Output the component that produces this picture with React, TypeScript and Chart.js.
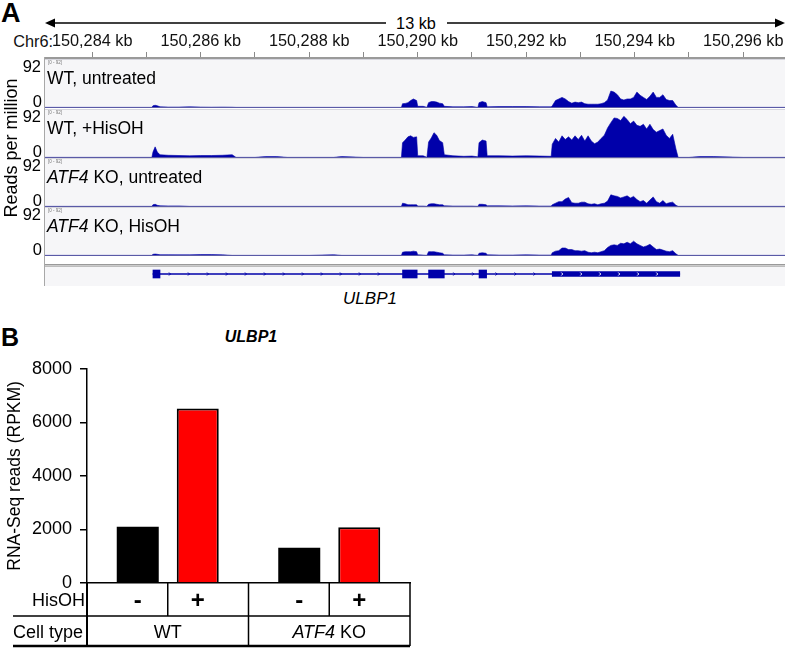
import React, { useEffect, useRef } from "react";
import { Chart, registerables } from "chart.js";

Chart.register(...registerables);

const FONT = '"Liberation Sans", Arial, Helvetica, sans-serif';
const COVERAGE_BLUE = "rgb(0, 0, 170)";

// ---------------- Panel A : genome browser ----------------
const CHROM_LABEL = "Chr6:";
const SPAN_LABEL = "13 kb";
const VIEW_START_KB = 150283.13;
const VIEW_END_KB = 150296.77;
const RULER_TICKS_KB = [
  150284, 150285, 150286, 150287, 150288, 150289, 150290, 150291, 150292, 150293, 150294, 150295, 150296,
];
const RULER_LABELS_KB = [150284, 150286, 150288, 150290, 150292, 150294, 150296];
const TRACK_MIN = 0;
const TRACK_MAX = 92;
const Y_AXIS_TITLE_A = "Reads per million";

const POSITIONS_KB = [
  // flank, exon 1, intron 1
  150283.13, 150285.10, 150285.12, 150285.16, 150285.20, 150285.25, 150285.40, 150285.60,
  150285.80, 150286.00, 150286.20, 150286.40, 150286.58, 150286.65, 150287.00, 150287.20,
  150287.40, 150287.60, 150288.00, 150288.45, 150288.60, 150289.00, 150289.40, 150289.70,
  // exon 2
  150289.72, 150289.77, 150289.82, 150289.87, 150289.92, 150289.98,
  // intron 2
  150290.00, 150290.10, 150290.17,
  // exon 3
  150290.20, 150290.25, 150290.30, 150290.35, 150290.40, 150290.46,
  // intron 3
  150290.49, 150290.65, 150290.85, 150291.00, 150291.11,
  // exon 4
  150291.13, 150291.19, 150291.26,
  // intron 4
  150291.28, 150291.50, 150291.75, 150292.00, 150292.25, 150292.46,
  // exon 5
  150292.48, 150292.54, 150292.60, 150292.66, 150292.72, 150292.78, 150292.84, 150292.90,
  150292.96, 150293.02, 150293.08, 150293.14, 150293.20, 150293.26, 150293.32, 150293.38,
  150293.44, 150293.50, 150293.56, 150293.62, 150293.68, 150293.74, 150293.80, 150293.86,
  150293.92, 150293.98, 150294.04, 150294.10, 150294.16, 150294.22, 150294.28, 150294.34,
  150294.40, 150294.46, 150294.52, 150294.58, 150294.64, 150294.70, 150294.76,
  // downstream
  150294.80, 150295.00, 150295.20, 150295.45, 150296.00, 150296.77,
];

const WT_UNTREATED = [
  0, 0, 3, 4, 3, 1, 0.5, 0.5, 1, 0.5, 0.3, 0.5, 0.3, 0, 0, 0, 0, 0, 0, 0, 0, 0, 0, 0,
  7, 7.5, 9, 13, 16, 13,
  2, 2, 0,
  9, 11, 11, 10, 8, 7,
  2, 1, 1, 1.5, 0,
  9, 11, 9,
  1, 1.5, 1.5, 1.5, 1, 1,
  3, 13, 16, 19, 16, 11, 8, 10, 9, 10, 7, 6, 6, 6, 6, 7, 9, 14, 31, 29,
  24, 16, 14, 16, 16, 19, 29, 23, 19, 15, 21, 29, 19, 19, 24, 15, 13, 13, 4,
  0, 0, 0, 0, 0, 0,
];

const WT_HISOH = [
  0, 0, 10, 20, 10, 5, 4, 3.5, 3, 3.5, 3.5, 4, 5, 0, 0, 1.5, 1.5, 0, 0, 0, 1.5, 0, 0, 0,
  28, 33, 39, 41, 38, 39,
  3, 3, 0,
  29, 37, 47, 42, 32, 28,
  5, 3, 2, 2.5, 1,
  28, 33, 31,
  3, 3, 2.5, 3, 2.5, 2,
  25, 36, 29, 41, 34, 39, 33, 41, 34, 42, 31, 41, 31, 26, 29, 36, 42, 56, 66, 75,
  74, 70, 78, 72, 64, 69, 61, 59, 63, 54, 63, 53, 48, 51, 54, 42, 36, 44, 16,
  0, 0, 1.5, 1.5, 0, 0,
];

const KO_UNTREATED = [
  0, 0, 3, 4, 2, 1, 0.8, 0.8, 0, 0, 0, 0, 0, 0, 0, 0, 0, 0, 0, 0, 0, 0, 0, 0,
  6, 5, 3, 3, 3, 3,
  0.5, 0.5, 0,
  4, 5, 5, 4, 3, 3,
  1, 0.5, 0.5, 0.5, 0,
  4, 4, 3,
  1, 1, 0.8, 1, 0.5, 0.5,
  3, 6, 9, 9, 14, 17, 7, 6, 6, 8, 8, 5, 4, 5, 3, 5, 6, 10, 22, 20,
  19, 16, 18, 20, 16, 19, 13, 9, 11, 6, 12, 18, 9, 6, 11, 5, 7, 8, 2,
  0, 0, 0, 0, 0, 0,
];

const KO_HISOH = [
  0, 0, 2, 2.5, 2, 1.2, 1.2, 1, 1, 1.5, 1.5, 1, 0, 0, 0, 0, 0, 0, 0, 1.2, 0, 0, 0, 0,
  6, 7, 7, 7, 8, 7,
  1, 0.5, 0,
  7, 7, 7, 6, 5, 4,
  1, 0.5, 0.5, 1, 0,
  4, 5, 4,
  1, 0.5, 0.5, 1, 0.5, 0.5,
  5, 8, 9, 14, 14, 11, 11, 9, 9, 8, 9, 6, 5, 6, 5, 7, 9, 15, 19, 20,
  19, 23, 22, 25, 22, 27, 22, 19, 16, 18, 21, 16, 11, 12, 10, 8, 7, 9, 3,
  0, 0, 0, 0, 0, 0,
];

const TRACK_SERIES = [WT_UNTREATED, WT_HISOH, KO_UNTREATED, KO_HISOH];
const TRACK_NAMES = ["WT, untreated", "WT, +HisOH", "ATF4 KO, untreated", "ATF4 KO, HisOH"];
const ITALIC_WORDS = ["ATF4"];

const GENE_NAME = "ULBP1";
const EXON_STARTS_KB = [150285.12, 150289.72, 150290.2, 150291.13, 150292.48];
const EXON_ENDS_KB = [150285.25, 150289.99, 150290.49, 150291.27, 150294.83];

// ---------------- Panel B : bar chart ----------------
const BAR_TITLE = "ULBP1";
const GENOTYPES = ["WT", "ATF4 KO"];
const RPKM_UNTREATED = [2100, 1320];
const RPKM_HISOH = [6520, 2080];
const TREATMENT_SIGNS = ["-", "+"];
const Y_AXIS_TITLE_B = "RNA-Seq reads (RPKM)";
const Y_MAX_B = 8000;
const Y_STEP_B = 2000;
const ROW_TREATMENT = "HisOH";
const ROW_CELLTYPE = "Cell type";

// ---------------- helpers ----------------
function words(text: string) {
  return text.split(/(\s+)/).filter((w) => w.length > 0);
}

function Rich({ text }: { text: string }) {
  return (
    <>
      {words(text).map((w, i) =>
        ITALIC_WORDS.includes(w.replace(/[,]/g, "")) ? (
          <i key={i}>{w}</i>
        ) : (
          <span key={i}>{w}</span>
        )
      )}
    </>
  );
}

function Label({
  x,
  y,
  anchor = "left",
  size = 16,
  style = {},
  children,
}: any) {
  const tx = anchor === "left" ? "0" : anchor === "center" ? "-50%" : "-100%";
  return (
    <div
      style={{
        position: "absolute",
        left: x,
        top: y,
        transform: `translate(${tx}, -50%)`,
        fontSize: size,
        lineHeight: 1,
        whiteSpace: "pre",
        ...style,
      }}
    >
      {children}
    </div>
  );
}

function ChartBox({ x, y, w, h, make }: any) {
  const ref = useRef<HTMLCanvasElement>(null);
  useEffect(() => {
    const chart = new Chart(ref.current as HTMLCanvasElement, make());
    return () => chart.destroy();
  }, []);
  return (
    <div style={{ position: "absolute", left: x, top: y, width: w, height: h }}>
      <canvas ref={ref} width={w} height={h} style={{ width: w, height: h, display: "block" }} />
    </div>
  );
}

const baseOptions = {
  responsive: false,
  animation: false,
  events: [],
  plugins: { legend: { display: false }, tooltip: { enabled: false } },
};

// track background + baseline
const trackPlugin = {
  id: "trackBg",
  beforeDraw(chart: any) {
    const { ctx, width, height } = chart;
    ctx.save();
    ctx.fillStyle = "#f6f6f8";
    ctx.fillRect(0, 0, width, height);
    ctx.fillStyle = "#d6d6de";
    ctx.fillRect(0, 0, width, 1);
    ctx.restore();
  },
  afterDatasetsDraw(chart: any) {
    const { ctx, width } = chart;
    const y0 = Math.round(chart.scales.y.getPixelForValue(TRACK_MIN)) + 0.5;
    ctx.save();
    ctx.strokeStyle = "#5a5aa6";
    ctx.lineWidth = 1;
    ctx.beginPath();
    ctx.moveTo(0, y0);
    ctx.lineTo(width, y0);
    ctx.stroke();
    ctx.restore();
  },
};

function trackConfig(values: number[]): any {
  return {
    type: "line",
    data: {
      datasets: [
        {
          data: POSITIONS_KB.map((p, i) => ({ x: p, y: values[i] })),
          fill: "origin",
          backgroundColor: COVERAGE_BLUE,
          borderColor: COVERAGE_BLUE,
          borderWidth: 0.6,
          pointRadius: 0,
          tension: 0,
        },
      ],
    },
    options: {
      ...baseOptions,
      layout: { padding: 0 },
      scales: {
        x: { type: "linear", min: VIEW_START_KB, max: VIEW_END_KB, display: false },
        y: { type: "linear", min: -1.2, max: TRACK_MAX, display: false },
      },
    },
    plugins: [trackPlugin],
  };
}

const rulerPlugin = {
  id: "rulerBar",
  beforeDraw(chart: any) {
    const { ctx, chartArea: a, width } = chart;
    ctx.save();
    ctx.fillStyle = "#9a9a9a";
    ctx.fillRect(0, a.top, width, 2);
    ctx.fillStyle = "#d0d0d0";
    ctx.fillRect(0, a.top + 2, width, 1);
    ctx.restore();
  },
};

function rulerConfig(): any {
  return {
    type: "line",
    data: { datasets: [] },
    options: {
      ...baseOptions,
      layout: { padding: 0 },
      scales: {
        x: {
          type: "linear",
          position: "top",
          min: VIEW_START_KB,
          max: VIEW_END_KB,
          afterBuildTicks: (s: any) => {
            s.ticks = RULER_TICKS_KB.map((v) => ({ value: v }));
          },
          afterFit: (s: any) => {
            s.height = 29;
          },
          ticks: {
            autoSkip: false,
            maxRotation: 0,
            padding: 1,
            color: "#111",
            font: { family: FONT, size: 16.3 },
            callback: (v: number) =>
              RULER_LABELS_KB.includes(v) ? `${v.toLocaleString("en-US")} kb` : "",
          },
          grid: { drawOnChartArea: false, drawTicks: true, tickLength: 5, color: "#8a8a8a", lineWidth: 1 },
          border: { display: false },
        },
        y: { display: false, min: 0, max: 1 },
      },
    },
    plugins: [rulerPlugin],
  };
}

const genePlugin = {
  id: "geneDecor",
  beforeDraw(chart: any) {
    const { ctx, width, height } = chart;
    ctx.save();
    ctx.fillStyle = "#9a9a9a";
    ctx.fillRect(0, 2, width, 1.5);
    ctx.fillStyle = "#bdbdbd";
    ctx.fillRect(0, 4, width, 1);
    ctx.fillStyle = "#f6f6f8";
    ctx.fillRect(0, 5, width, height - 5);
    ctx.restore();
  },
  afterDatasetsDraw(chart: any) {
    const { ctx } = chart;
    const xs = chart.scales.x;
    const yc = chart.scales.y.getPixelForValue(0);
    const chevron = (px: number, color: string) => {
      ctx.strokeStyle = color;
      ctx.beginPath();
      ctx.moveTo(px - 1, yc - 1.5);
      ctx.lineTo(px + 0.5, yc);
      ctx.lineTo(px - 1, yc + 1.5);
      ctx.stroke();
    };
    ctx.save();
    ctx.lineWidth = 1;
    for (let i = 0; i < EXON_STARTS_KB.length - 1; i++) {
      const a = xs.getPixelForValue(EXON_ENDS_KB[i]);
      const b = xs.getPixelForValue(EXON_STARTS_KB[i + 1]);
      for (let px = a + 10; px < b - 5; px += 19) chevron(px, COVERAGE_BLUE);
    }
    const last = EXON_STARTS_KB.length - 1;
    const a = xs.getPixelForValue(EXON_STARTS_KB[last]);
    const b = xs.getPixelForValue(EXON_ENDS_KB[last]);
    for (let px = a + 10; px < b - 5; px += 19) chevron(px, "#ffffff");
    ctx.restore();
  },
};

function geneConfig(): any {
  const last = EXON_STARTS_KB.length - 1;
  const common = { backgroundColor: COVERAGE_BLUE, borderWidth: 0, grouped: false };
  return {
    type: "bar",
    data: {
      labels: [GENE_NAME],
      datasets: [
        {
          ...common,
          barThickness: 1,
          data: [{ x: [EXON_STARTS_KB[0], EXON_ENDS_KB[last]], y: GENE_NAME }],
        },
        {
          ...common,
          barThickness: 8,
          data: EXON_STARTS_KB.slice(0, last).map((s, i) => ({ x: [s, EXON_ENDS_KB[i]], y: GENE_NAME })),
        },
        {
          ...common,
          barThickness: 5,
          data: [{ x: [EXON_STARTS_KB[last], EXON_ENDS_KB[last]], y: GENE_NAME }],
        },
      ],
    },
    options: {
      ...baseOptions,
      indexAxis: "y",
      layout: { padding: 0 },
      scales: {
        x: { type: "linear", min: VIEW_START_KB, max: VIEW_END_KB, display: false },
        y: { type: "category", display: false },
      },
    },
    plugins: [genePlugin],
  };
}

function drawRich(ctx: any, text: string, cx: number, cy: number, size: number) {
  const parts = words(text);
  const fontOf = (w: string) => `${ITALIC_WORDS.includes(w) ? "italic " : ""}${size}px ${FONT}`;
  let total = 0;
  parts.forEach((w) => {
    ctx.font = fontOf(w);
    total += ctx.measureText(w).width;
  });
  let x = cx - total / 2;
  ctx.textAlign = "left";
  parts.forEach((w) => {
    ctx.font = fontOf(w);
    ctx.fillText(w, x, cy);
    x += ctx.measureText(w).width;
  });
}

const tablePlugin = {
  id: "hisohTable",
  afterDraw(chart: any) {
    const { ctx, chartArea: a, scales } = chart;
    const xs = scales.x;
    const top = a.bottom;
    const mid = a.bottom + 33;
    const bot = a.bottom + 63;
    const tableLeft = 13;
    const c0 = xs.getPixelForValue(0);
    const c1 = xs.getPixelForValue(1);
    const split = (c0 + c1) / 2;
    const line = (x1: number, y1: number, x2: number, y2: number, w = 1.5) => {
      ctx.lineWidth = w;
      ctx.beginPath();
      ctx.moveTo(x1, y1);
      ctx.lineTo(x2, y2);
      ctx.stroke();
    };
    ctx.save();
    ctx.strokeStyle = "#000";
    line(a.left, top, a.left, bot, 2);
    line(c0, top, c0, mid);
    line(c1, top, c1, mid);
    line(split, top, split, bot);
    line(a.right, top, a.right, bot);
    line(tableLeft, mid, a.right, mid);
    line(tableLeft, bot, a.right, bot, 2.5);

    ctx.fillStyle = "#000";
    ctx.textBaseline = "middle";
    ctx.font = `18px ${FONT}`;
    ctx.textAlign = "right";
    ctx.fillText(ROW_TREATMENT, a.left - 2, (top + mid) / 2 + 2);
    ctx.textAlign = "left";
    ctx.fillText(ROW_CELLTYPE, tableLeft, (mid + bot) / 2 + 2);

    ctx.font = `bold 24px ${FONT}`;
    ctx.textAlign = "center";
    chart.data.datasets.forEach((_ds: any, di: number) => {
      chart.getDatasetMeta(di).data.forEach((el: any) => {
        ctx.fillText(TREATMENT_SIGNS[di], el.x, (top + mid) / 2 + 2);
      });
    });
    GENOTYPES.forEach((g, i) => drawRich(ctx, g, xs.getPixelForValue(i), (mid + bot) / 2 + 2, 18));
    ctx.restore();
  },
};

function barConfig(): any {
  return {
    type: "bar",
    data: {
      labels: GENOTYPES,
      datasets: [
        {
          label: `${ROW_TREATMENT} ${TREATMENT_SIGNS[0]}`,
          data: RPKM_UNTREATED,
          backgroundColor: "#000000",
          borderColor: "#000000",
          borderWidth: 0,
          barPercentage: 0.7,
          categoryPercentage: 0.743,
        },
        {
          label: `${ROW_TREATMENT} ${TREATMENT_SIGNS[1]}`,
          data: RPKM_HISOH,
          backgroundColor: "#ff0000",
          borderColor: "#000000",
          borderWidth: 2,
          barPercentage: 0.7,
          categoryPercentage: 0.743,
        },
      ],
    },
    options: {
      ...baseOptions,
      layout: { padding: { top: 17, right: 10, left: 0, bottom: 0 } },
      scales: {
        x: {
          grid: { display: false },
          ticks: { display: false },
          border: { display: true, color: "#000", width: 1.5 },
          afterFit: (s: any) => {
            s.height = 65;
          },
        },
        y: {
          min: 0,
          max: Y_MAX_B,
          ticks: {
            stepSize: Y_STEP_B,
            color: "#000",
            font: { family: FONT, size: 18 },
            padding: 8,
            callback: (v: number) => String(v),
          },
          grid: { drawOnChartArea: false, drawTicks: true, tickLength: 7, color: "#000", lineWidth: 1.5 },
          border: { display: true, color: "#000", width: 1.5 },
          title: {
            display: true,
            text: Y_AXIS_TITLE_B,
            color: "#000",
            font: { family: FONT, size: 17.5 },
            padding: { top: 5, bottom: 0 },
          },
          afterFit: (s: any) => {
            s.width = 87;
          },
        },
      },
    },
    plugins: [tablePlugin],
  };
}

const TRACK_TOPS = [59, 109, 158, 207];
const TRACK_H = 49;

export default function App() {
  useEffect(() => {
    document.body.style.margin = "0";
  }, []);
  return (
    <div
      style={{
        position: "fixed",
        left: 0,
        top: 0,
        width: 787,
        height: 648,
        background: "#ffffff",
        fontFamily: FONT,
        color: "#000",
        overflow: "hidden",
      }}
    >
      {/* Panel A */}
      <Label x={1} y={13} size={27} style={{ fontWeight: "bold" }}>
        A
      </Label>
      <svg style={{ position: "absolute", left: 0, top: 0 }} width={787} height={40}>
        <line x1={53} y1={23} x2={386} y2={23} stroke="#000" strokeWidth={1.5} />
        <line x1={447} y1={23} x2={777} y2={23} stroke="#000" strokeWidth={1.5} />
        <polygon points="45,23 55,18.5 55,27.5" fill="#000" />
        <polygon points="785,23 775,18.5 775,27.5" fill="#000" />
      </svg>
      <Label x={416} y={23} anchor="center" size={16.3}>
        {SPAN_LABEL}
      </Label>
      <Label x={53} y={41} anchor="right" size={16.3} style={{ color: "#111" }}>
        {CHROM_LABEL}
      </Label>
      <ChartBox x={45} y={28} w={740} h={32} make={rulerConfig} />

      {TRACK_SERIES.map((vals, i) => (
        <ChartBox key={i} x={45} y={TRACK_TOPS[i]} w={740} h={TRACK_H} make={() => trackConfig(vals)} />
      ))}
      {TRACK_TOPS.map((t, i) => (
        <React.Fragment key={i}>
          <Label x={41} y={t + 7} anchor="right" size={16.5}>
            {String(TRACK_MAX)}
          </Label>
          <Label x={42} y={t + 42} anchor="right" size={16.5}>
            {String(TRACK_MIN)}
          </Label>
          <Label x={48} y={t + 4} size={4.5} style={{ color: "#777" }}>
            {`[${TRACK_MIN} - ${TRACK_MAX}]`}
          </Label>
          <Label x={47} y={t + 20} size={17.5}>
            <Rich text={TRACK_NAMES[i]} />
          </Label>
        </React.Fragment>
      ))}
      <Label
        x={11}
        y={148}
        anchor="center"
        size={18}
        style={{ transform: "translate(-50%, -50%) rotate(-90deg)" }}
      >
        {Y_AXIS_TITLE_A}
      </Label>
      <ChartBox x={45} y={262} w={740} h={24} make={geneConfig} />
      <div style={{ position: "absolute", left: 44, top: 57, width: 1, height: 229, background: "#a8a8a8" }} />
      <Label x={370} y={298} anchor="center" size={17} style={{ fontStyle: "italic" }}>
        {GENE_NAME}
      </Label>

      {/* Panel B */}
      <Label x={1} y={337} size={25} style={{ fontWeight: "bold" }}>
        B
      </Label>
      <Label x={251} y={337} anchor="center" size={16} style={{ fontWeight: "bold", fontStyle: "italic" }}>
        {BAR_TITLE}
      </Label>
      <ChartBox x={0} y={350} w={420} h={298} make={barConfig} />
    </div>
  );
}
